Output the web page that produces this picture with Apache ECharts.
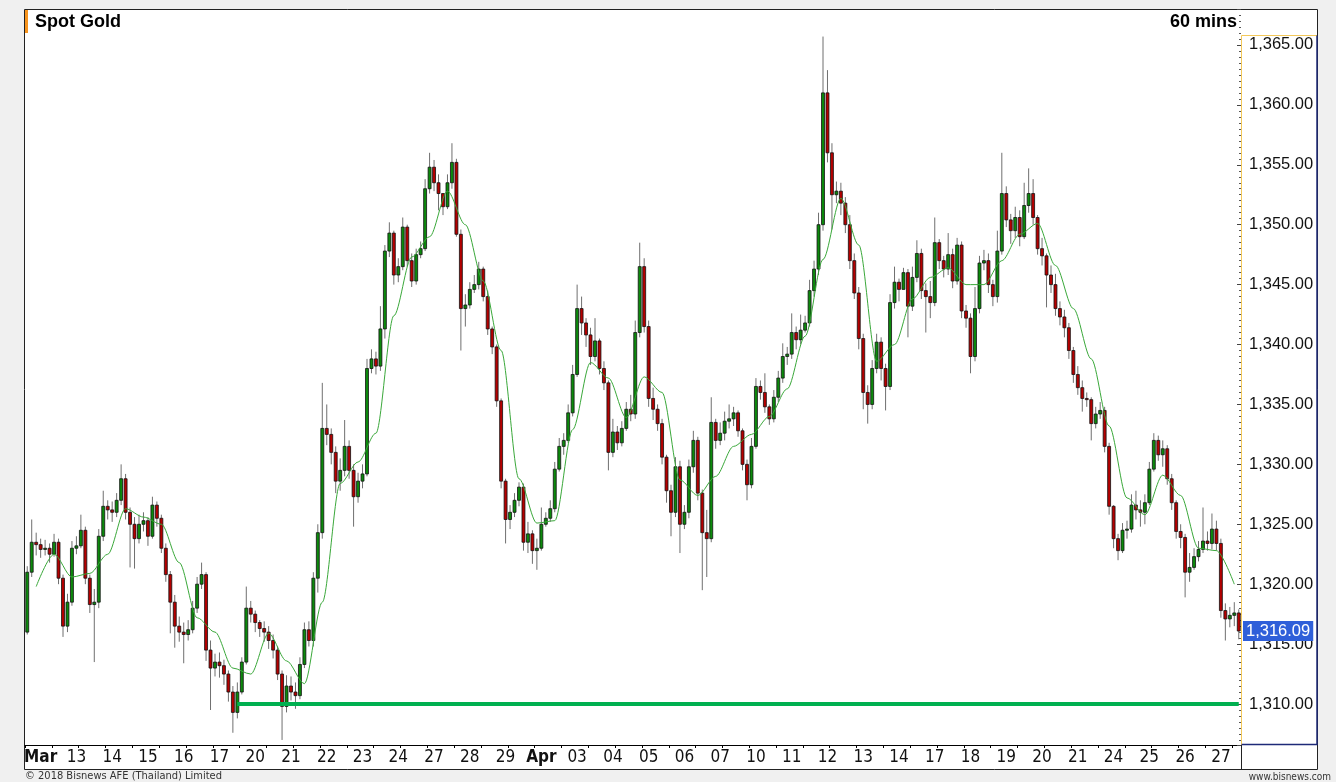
<!DOCTYPE html>
<html>
<head>
<meta charset="utf-8">
<script src="https://cdn.jsdelivr.net/npm/echarts/dist/echarts.min.js"></script>
<style>
html, body { margin: 0; padding: 0; background: #f0f0f0; }
#chart { width: 1336px; height: 782px; }
</style>
</head>
<body>
<div id="chart"></div>
<script>
// Spot Gold, 60 mins chart (one candle here = 3 hours, 8 per day slot)
const dayLabels = ['Mar', '13', '14', '15', '16', '17', '20', '21', '22', '23', '24', '27', '28', '29',
  'Apr', '03', '04', '05', '06', '07', '10', '11', '12', '13', '14', '17', '18', '19', '20', '21',
  '24', '25', '26', '27']
const monthLabels = ['Mar', 'Apr']
const candlesPerDay = 8
const firstOpen = 1316.0

const closes = [
  1321.0, 1323.5, 1323.3, 1322.9, 1323.0, 1322.5, 1323.5, 1320.5,
  1316.5, 1318.5, 1323.0, 1323.2, 1324.5, 1320.5, 1318.3, 1318.5,
  1324.0, 1326.5, 1326.2, 1326.0, 1327.0, 1328.8, 1326.0, 1325.0,
  1323.8, 1325.0, 1325.3, 1324.0, 1326.6, 1325.5, 1323.0, 1320.8,
  1318.5, 1316.5, 1316.0, 1315.8, 1316.2, 1318.0, 1320.0, 1320.8,
  1314.5, 1313.0, 1313.5, 1313.2, 1312.5, 1311.0, 1309.3, 1311.0,
  1313.5, 1318.0, 1317.5, 1316.8, 1316.3, 1316.0, 1315.3, 1314.5,
  1312.5, 1309.8, 1311.5, 1311.0, 1310.7, 1313.3, 1316.2, 1315.3,
  1320.5, 1324.3, 1333.0, 1332.5, 1331.0, 1328.6, 1329.5, 1331.5,
  1329.5, 1327.3, 1328.6, 1329.2, 1338.0, 1338.8, 1338.2, 1341.3,
  1347.8, 1349.3, 1345.8, 1346.5, 1349.8, 1347.0, 1345.3, 1347.5,
  1348.0, 1353.0, 1354.8, 1353.5, 1352.6, 1351.5, 1353.5, 1355.2,
  1349.2, 1343.0, 1343.3, 1344.6, 1345.0, 1346.3, 1344.0, 1341.3,
  1339.8, 1335.3, 1328.6, 1325.4, 1326.0, 1327.0, 1328.1, 1323.5,
  1324.2, 1322.8, 1323.0, 1325.0, 1325.5, 1326.3, 1329.6, 1331.5,
  1332.0, 1334.3, 1337.5, 1343.0, 1341.8, 1340.8, 1339.0, 1340.3,
  1338.0, 1336.8, 1331.0, 1332.7, 1331.8, 1333.0, 1334.6, 1334.2,
  1341.0, 1346.5, 1341.5, 1335.5, 1334.6, 1333.4, 1330.6, 1327.8,
  1326.0, 1329.8, 1325.0, 1326.0, 1329.8, 1332.0, 1327.6, 1324.3,
  1323.8, 1333.5, 1332.0, 1332.6, 1333.6, 1333.8, 1334.3, 1332.8,
  1330.0, 1328.3, 1331.5, 1336.5, 1336.0, 1334.8, 1333.8, 1335.6,
  1337.2, 1339.0, 1339.2, 1341.0, 1340.4, 1341.2, 1341.8, 1344.5,
  1346.3, 1350.0, 1361.0, 1356.0, 1352.5, 1352.8, 1351.8, 1350.0,
  1347.0, 1344.3, 1340.5, 1336.0, 1335.0, 1338.0, 1340.2, 1338.0,
  1336.5, 1343.5, 1345.2, 1344.6, 1346.0, 1343.2, 1345.6, 1347.6,
  1344.5, 1344.0, 1343.5, 1348.5, 1347.0, 1346.3, 1347.5, 1345.3,
  1348.3, 1342.8, 1342.2, 1339.0, 1343.0, 1346.8, 1347.0, 1345.0,
  1344.0, 1347.8, 1352.6, 1350.4, 1349.5, 1350.6, 1349.0, 1351.6,
  1352.6, 1350.6, 1348.0, 1347.4, 1345.8, 1345.0, 1343.0, 1342.3,
  1341.4, 1339.5, 1337.5, 1336.4, 1335.5, 1335.4, 1333.4, 1334.2,
  1334.5, 1331.5, 1326.5, 1323.8, 1322.8, 1324.5, 1324.6, 1326.6,
  1326.2, 1326.0, 1326.8, 1329.6, 1332.0, 1330.8, 1331.3, 1328.8,
  1326.8, 1324.4, 1323.9, 1321.0, 1321.4, 1322.3, 1322.9, 1323.6,
  1323.4, 1324.6, 1323.4, 1317.8, 1317.1, 1317.4, 1317.6, 1316.09
]

const highs = [
  1321.5, 1325.4, 1324.3, 1323.8, 1323.7, 1323.4, 1324.2, 1323.8,
  1320.8, 1319.2, 1323.6, 1324.0, 1325.8, 1324.8, 1320.8, 1319.6,
  1324.6, 1327.8, 1327.0, 1326.9, 1327.6, 1330.0, 1329.2, 1326.4,
  1325.6, 1325.8, 1326.0, 1325.6, 1327.3, 1326.9, 1325.8, 1323.4,
  1321.1, 1319.1, 1317.3, 1316.8, 1317.0, 1318.6, 1320.6, 1321.8,
  1321.0, 1315.3, 1314.2, 1314.3, 1313.7, 1312.8, 1311.5, 1311.8,
  1313.9, 1319.8, 1318.6, 1317.8, 1317.0, 1316.9, 1316.5, 1315.8,
  1314.8, 1312.8, 1312.4, 1312.3, 1311.8, 1313.9, 1316.8, 1316.9,
  1321.0, 1325.0, 1336.8, 1335.0, 1333.0, 1331.5, 1330.5, 1333.7,
  1332.0, 1330.0, 1329.3, 1330.0, 1338.8, 1339.6, 1339.4, 1343.2,
  1348.3, 1350.2, 1349.5, 1347.2, 1350.6, 1350.0, 1347.6, 1348.0,
  1348.6, 1353.8, 1356.0, 1355.4, 1354.2, 1352.6, 1354.2, 1356.8,
  1355.5, 1349.6, 1344.2, 1345.2, 1345.8, 1346.9, 1346.5, 1344.5,
  1341.5, 1340.0, 1335.5, 1328.8, 1326.6, 1327.6, 1328.5, 1328.4,
  1325.2, 1324.5, 1323.8, 1326.4, 1326.0, 1327.0, 1330.2, 1332.2,
  1332.6, 1335.0, 1338.3, 1345.0, 1344.0, 1342.2, 1341.4, 1342.2,
  1340.5, 1338.6, 1337.0, 1333.8, 1333.2, 1333.6, 1335.2, 1335.8,
  1342.0, 1348.5, 1347.2, 1342.0, 1336.4, 1335.0, 1333.8, 1330.8,
  1328.3, 1330.6, 1330.3, 1326.6, 1330.4, 1332.8, 1332.3, 1327.9,
  1326.2, 1335.6, 1333.8, 1333.5, 1334.4, 1335.0, 1334.8, 1334.5,
  1333.0, 1330.4, 1332.2, 1337.2, 1337.0, 1337.6, 1335.0, 1336.2,
  1337.8, 1340.1, 1339.8, 1342.6, 1341.5, 1342.5, 1342.4, 1345.4,
  1347.0, 1351.0, 1365.7, 1362.9, 1356.8, 1353.6, 1353.5, 1352.3,
  1350.8, 1347.6, 1344.8, 1340.9, 1336.6, 1338.7, 1340.9, 1340.6,
  1338.4, 1344.2, 1346.5, 1345.5, 1346.4, 1346.3, 1346.5, 1348.7,
  1348.0, 1345.1, 1345.3, 1350.6, 1348.8, 1347.4, 1349.3, 1348.0,
  1348.9, 1348.6, 1343.3, 1342.6, 1344.8, 1347.4, 1347.9, 1347.6,
  1345.4, 1349.5, 1356.0, 1353.2, 1350.9, 1351.5, 1351.2, 1353.5,
  1354.7, 1353.8, 1350.8, 1348.9, 1347.6, 1346.6, 1345.9, 1343.6,
  1342.9, 1341.8, 1339.8, 1338.2, 1337.0, 1336.0, 1335.6, 1334.8,
  1335.2, 1334.8, 1331.8, 1326.6, 1324.2, 1325.1, 1325.3, 1327.5,
  1327.8, 1327.0, 1327.5, 1330.2, 1332.6, 1332.4, 1332.0, 1331.6,
  1329.2, 1327.0, 1325.0, 1324.2, 1322.6, 1323.0, 1323.6, 1326.4,
  1324.4, 1325.9, 1325.3, 1323.8, 1318.4, 1318.1, 1318.5, 1317.9
]

const lows = [
  1315.8, 1320.6, 1322.4, 1322.2, 1322.4, 1321.8, 1322.3, 1320.0,
  1315.6, 1316.0, 1318.2, 1322.5, 1323.0, 1320.0, 1317.6, 1313.5,
  1318.0, 1323.6, 1325.4, 1325.2, 1325.6, 1326.6, 1325.4, 1321.4,
  1321.3, 1323.4, 1324.4, 1323.2, 1323.8, 1324.8, 1322.6, 1320.2,
  1315.9, 1314.7, 1315.2, 1313.4, 1315.3, 1315.9, 1317.6, 1319.6,
  1313.6, 1309.5, 1312.3, 1312.2, 1311.6, 1310.2, 1307.6, 1308.8,
  1310.8, 1313.3, 1316.8, 1316.0, 1315.6, 1315.2, 1314.6, 1313.8,
  1312.0, 1307.0, 1309.3, 1310.3, 1309.6, 1310.4, 1313.0, 1314.8,
  1314.8, 1319.3, 1323.8, 1331.6, 1330.0, 1327.6, 1327.8, 1329.0,
  1328.8, 1324.8, 1326.8, 1328.0, 1329.0, 1337.6, 1337.5, 1337.8,
  1340.5, 1347.3, 1345.0, 1345.2, 1346.2, 1346.5, 1344.8, 1345.0,
  1347.2, 1347.8, 1352.6, 1352.8, 1351.2, 1350.8, 1351.3, 1353.0,
  1349.0, 1339.5, 1341.5, 1343.0, 1344.3, 1344.6, 1343.6, 1340.8,
  1339.2, 1334.8, 1328.0, 1323.4, 1324.6, 1325.6, 1326.5, 1322.8,
  1322.6, 1321.7, 1321.2, 1322.8, 1324.8, 1325.2, 1326.0, 1329.4,
  1330.8, 1331.8, 1334.0, 1337.3, 1340.8, 1339.8, 1338.3, 1338.6,
  1337.5, 1336.2, 1329.5, 1330.6, 1331.2, 1331.5, 1332.8, 1333.6,
  1333.8, 1340.6, 1341.0, 1334.8, 1333.7, 1332.8, 1330.0, 1326.8,
  1324.0, 1325.6, 1322.6, 1324.6, 1325.5, 1329.3, 1327.0, 1319.5,
  1320.6, 1323.5, 1331.3, 1331.6, 1332.0, 1333.0, 1333.2, 1332.3,
  1329.5, 1327.0, 1328.0, 1331.3, 1335.4, 1334.3, 1333.3, 1333.5,
  1335.2, 1336.8, 1338.3, 1338.8, 1339.6, 1340.0, 1341.0, 1341.5,
  1344.0, 1345.8, 1349.5, 1355.2, 1349.6, 1351.8, 1350.8, 1349.3,
  1346.3, 1343.8, 1339.6, 1334.6, 1333.4, 1334.6, 1337.6, 1337.0,
  1334.5, 1336.2, 1343.0, 1343.6, 1345.3, 1340.6, 1342.8, 1345.2,
  1343.8, 1341.0, 1342.2, 1343.2, 1346.3, 1345.6, 1345.8, 1344.7,
  1345.0, 1342.2, 1341.4, 1337.6, 1338.6, 1342.6, 1346.2, 1344.3,
  1343.2, 1343.5, 1347.5, 1349.8, 1348.4, 1348.9, 1348.2, 1348.8,
  1351.0, 1350.0, 1347.5, 1346.6, 1343.1, 1344.3, 1342.4, 1341.6,
  1340.6, 1338.8, 1336.8, 1335.8, 1334.4, 1334.8, 1332.0, 1333.0,
  1333.8, 1331.0, 1325.8, 1323.0, 1322.0, 1322.6, 1323.8, 1324.3,
  1325.4, 1324.8, 1325.0, 1326.6, 1329.4, 1330.3, 1329.8, 1328.3,
  1326.2, 1323.8, 1323.0, 1318.9, 1320.2, 1321.2, 1321.9, 1322.6,
  1322.8, 1322.9, 1322.8, 1317.2, 1315.3, 1316.4, 1316.5, 1315.4
]

// moving average line, read every 4th candle (starting at candle 2)
const maStart = 2
const maStep = 4
const maValues = [
  1319.8, 1322.5, 1320.6, 1320.9, 1322.5, 1326.3, 1325.6, 1325.0, 1321.8, 1317.2,
  1316.0, 1313.0, 1312.5, 1315.9, 1313.6, 1311.7, 1318.5, 1328.4, 1330.2, 1332.6,
  1342.4, 1347.3, 1349.0, 1352.8, 1350.0, 1345.3, 1339.5, 1328.8, 1325.1, 1325.3,
  1332.9, 1338.5, 1337.2, 1333.9, 1337.3, 1336.0, 1328.7, 1327.4, 1329.0, 1331.5,
  1332.5, 1334.0, 1336.3, 1340.7, 1347.1, 1352.2, 1348.3, 1338.6, 1340.0, 1343.8,
  1345.6, 1346.4, 1345.0, 1345.0, 1347.0, 1349.2, 1350.1, 1346.6, 1343.0, 1338.8,
  1333.2, 1327.2, 1325.8, 1329.1, 1327.4, 1323.0, 1322.8, 1320.0
]

const supportLevel = 1310
const supportFromCandle = 47

const yMin = 1306.58
const yMax = 1368.0

const numFmt = new Intl.NumberFormat('en-US', { minimumFractionDigits: 2, maximumFractionDigits: 2 })
const narrow = "'Liberation Sans Narrow', 'DejaVu Sans Condensed', 'Arial Narrow', sans-serif"
const arial = "'Liberation Sans', Arial, sans-serif"

const categories = closes.map((c, i) => 'c' + i)
const candles = closes.map((c, i) => {
  const o = i === 0 ? firstOpen : closes[i - 1]
  return [i, o, c, Math.min(lows[i], o, c), Math.max(highs[i], o, c)]
})
const maData = maValues.map((v, k) => [maStart + k * maStep, v])
const lastClose = closes[closes.length - 1]

function renderCandle(params, api) {
  const i = api.value(0)
  const o = api.value(1)
  const c = api.value(2)
  const pO = api.coord([i, o])
  const pC = api.coord([i, c])
  const pL = api.coord([i, api.value(3)])
  const pH = api.coord([i, api.value(4)])
  const w = api.size([1, 0])[0] * 0.66
  const x = pO[0]
  const top = Math.min(pO[1], pC[1])
  const h = Math.max(Math.abs(pO[1] - pC[1]), 1)
  return {
    type: 'group',
    children: [
      {
        type: 'line',
        shape: { x1: x, y1: pH[1], x2: x, y2: pL[1] },
        style: { stroke: '#6f6f6f', lineWidth: 1 }
      },
      {
        type: 'rect',
        shape: { x: x - w / 2, y: top, width: w, height: h },
        style: { fill: c >= o ? '#0c8a0c' : '#b50000', stroke: '#111', lineWidth: 0.8 }
      }
    ]
  }
}

const chart = echarts.init(document.getElementById('chart'))

chart.setOption({
  animation: false,
  backgroundColor: '#f0f0f0',
  grid: { left: 25, right: 95, top: 9, bottom: 37, containLabel: false, outerBoundsMode: 'none' },
  xAxis: {
    type: 'category',
    data: categories,
    boundaryGap: true,
    axisLine: { show: true, lineStyle: { color: '#000', width: 1 } },
    axisTick: { show: true, length: 3, interval: (idx) => idx % 6 === 0, lineStyle: { color: '#000' } },
    axisLabel: {
      interval: (idx) => idx % candlesPerDay === 3,
      margin: 4,
      fontSize: 17,
      fontFamily: narrow,
      color: '#111',
      formatter: (value, idx) => {
        const t = dayLabels[Math.floor(idx / candlesPerDay)]
        return monthLabels.includes(t) ? '{b|' + t + '}' : t
      },
      rich: { b: { fontWeight: 'bold', fontSize: 17, fontFamily: narrow, color: '#111' } }
    },
    splitLine: { show: false }
  },
  yAxis: {
    type: 'value',
    position: 'right',
    min: yMin,
    max: yMax,
    splitNumber: 12,
    scale: true,
    axisLine: { show: false },
    axisTick: { show: true, inside: true, length: 4, lineStyle: { color: '#444' } },
    minorTick: { show: true, splitNumber: 10, length: 2, lineStyle: { color: '#555' } },
    splitLine: { show: false },
    axisLabel: {
      margin: 8,
      fontSize: 16.5,
      fontFamily: arial,
      color: '#111',
      showMinLabel: false,
      showMaxLabel: false,
      formatter: (v) => (Math.abs(v / 5 - Math.round(v / 5)) < 1e-6 ? numFmt.format(v) : '')
    }
  },
  series: [
    {
      name: 'Spot Gold',
      type: 'custom',
      renderItem: renderCandle,
      data: candles,
      encode: { x: 0, y: [1, 2, 3, 4] },
      clip: true,
      z: 2
    },
    {
      name: 'MA',
      type: 'line',
      data: maData,
      smooth: 0.3,
      smoothMonotone: 'x',
      showSymbol: false,
      lineStyle: { color: '#3aa83a', width: 1 },
      z: 3,
      markLine: {
        silent: true,
        symbol: ['none', 'none'],
        data: [
          [
            { coord: [supportFromCandle, supportLevel], lineStyle: { color: '#00b050', width: 4, type: 'solid' }, label: { show: false } },
            { coord: [closes.length - 1, supportLevel] }
          ],
          {
            yAxis: lastClose,
            lineStyle: { color: 'rgba(0,0,0,0)', width: 0 },
            label: {
              show: true,
              position: 'end',
              distance: 2,
              formatter: numFmt.format(lastClose),
              backgroundColor: '#2f5fd9',
              color: '#fff',
              fontSize: 16.5,
              fontFamily: arial,
              padding: [2, 3, 1, 3]
            }
          }
        ]
      }
    }
  ],
  graphic: [
    // white chart panel with frame
    { type: 'rect', z: -10, shape: { x: 24.5, y: 9.5, width: 1293, height: 760 }, style: { fill: '#fff', stroke: '#222', lineWidth: 1 } },
    // y-axis box: yellow top/left, navy right/bottom
    { type: 'polyline', z: 50, shape: { points: [[1241.5, 745], [1241.5, 35.5], [1317, 35.5]] }, style: { stroke: '#f3c85a', lineWidth: 1, fill: null } },
    { type: 'polyline', z: 50, shape: { points: [[1317, 35.5], [1317, 744.5], [1241.5, 744.5]] }, style: { stroke: '#1e2a78', lineWidth: 1.5, fill: null } },
    // divider in the date strip
    { type: 'line', z: 50, shape: { x1: 1241.5, y1: 745, x2: 1241.5, y2: 770 }, style: { stroke: '#222', lineWidth: 1 } },
    // orange title marker
    { type: 'rect', z: 50, shape: { x: 25, y: 10, width: 3, height: 23 }, style: { fill: '#f7941d' } },
    { type: 'text', z: 50, x: 35, y: 22, style: { text: 'Spot Gold', font: 'bold 18px ' + arial, fill: '#000', align: 'left', verticalAlign: 'middle' } },
    { type: 'text', z: 50, x: 1237, y: 22, style: { text: '60 mins', font: 'bold 18px ' + arial, fill: '#000', align: 'right', verticalAlign: 'middle' } },
    { type: 'text', z: 50, x: 25, y: 776, style: { text: '\u00a9 2018 Bisnews AFE (Thailand) Limited', font: '11px ' + narrow, fill: '#333', align: 'left', verticalAlign: 'middle' } },
    { type: 'text', z: 50, x: 1331, y: 777, style: { text: 'www.bisnews.com', font: '10px ' + narrow, fill: '#333', align: 'right', verticalAlign: 'middle' } }
  ]
})
</script>
</body>
</html>
